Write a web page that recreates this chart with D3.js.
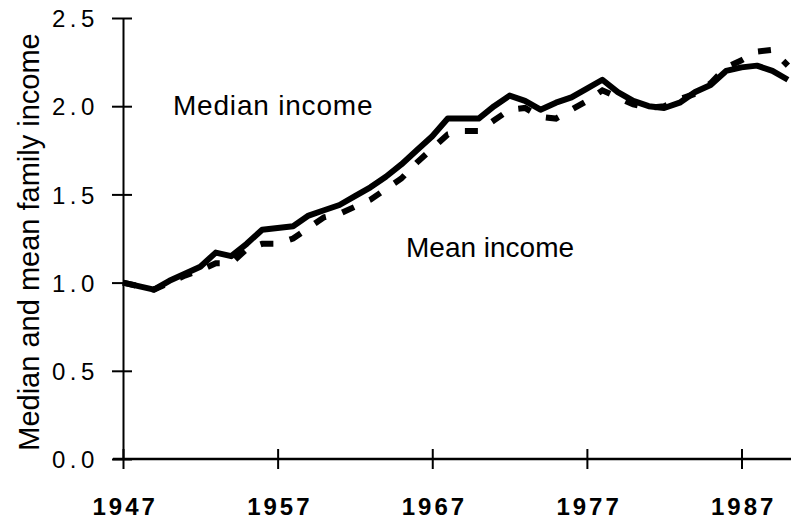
<!DOCTYPE html>
<meta charset="utf-8">
<script src="https://d3js.org/d3.v7.min.js"></script>
<style>
  body { margin: 0; background: #fff; }
  svg text { font-family: "Liberation Sans", Arial, sans-serif; fill: #000; }
</style>
<div id="chart"></div>
<script>

// years on the x axis
var years = [1947, 1948, 1949, 1950, 1951, 1952, 1953, 1954, 1955, 1956,
             1957, 1958, 1959, 1960, 1961, 1962, 1963, 1964, 1965, 1966,
             1967, 1968, 1969, 1970, 1971, 1972, 1973, 1974, 1975, 1976,
             1977, 1978, 1979, 1980, 1981, 1982, 1983, 1984, 1985, 1986,
             1987, 1988, 1989, 1990];

// median family income, relative to 1947
var median = [1.00, 0.98, 0.96, 1.01, 1.05, 1.09, 1.17, 1.15, 1.22, 1.30,
              1.31, 1.32, 1.38, 1.41, 1.44, 1.49, 1.54, 1.60, 1.67, 1.75,
              1.83, 1.93, 1.93, 1.93, 2.00, 2.06, 2.03, 1.98, 2.02, 2.05,
              2.10, 2.15, 2.08, 2.03, 2.00, 1.99, 2.02, 2.08, 2.12, 2.20,
              2.22, 2.23, 2.20, 2.15];

// mean family income, relative to 1947
var mean = [1.00, 0.98, 0.96, 1.00, 1.04, 1.07, 1.11, 1.11, 1.19, 1.22,
            1.22, 1.25, 1.31, 1.37, 1.39, 1.43, 1.47, 1.53, 1.59, 1.68,
            1.76, 1.84, 1.86, 1.86, 1.92, 1.98, 1.99, 1.94, 1.93, 1.98,
            2.03, 2.09, 2.05, 2.01, 1.99, 2.00, 2.04, 2.07, 2.13, 2.22,
            2.26, 2.31, 2.32, 2.23];

var yTicks = [0, 0.5, 1.0, 1.5, 2.0, 2.5];
var xTicks = [1947, 1957, 1967, 1977, 1987];

var width = 791, height = 522;
var font = "'Liberation Sans', Arial, sans-serif";

var svg = d3.select("#chart")
  .append("svg")
    .attr("width", width)
    .attr("height", height);

var x = d3.scaleLinear().domain([1947, 1990.2]).range([123, 791]);
var y = d3.scaleLinear().domain([0, 2.5]).range([459, 18]);

// y axis
var yAxis = svg.append("g")
  .attr("transform", "translate(" + x(1947) + ",0)")
  .attr("font-family", font)
  .call(d3.axisLeft(y).tickValues(yTicks).tickFormat(d3.format(".1f"))
        .tickSize(11).tickPadding(20).tickSizeOuter(0));
yAxis.select(".domain").attr("stroke", "#000").attr("stroke-width", 2);
yAxis.selectAll(".tick line")
  .attr("x1", 9).attr("stroke", "#000").attr("stroke-width", 2);
// labels placed from the left edge so letter spacing does not shift them
yAxis.selectAll(".tick text")
  .attr("text-anchor", "start")
  .attr("x", 52 - x(1947))
  .attr("dy", "0.36em")
  .style("font-family", font)
  .style("font-size", "24px")
  .style("letter-spacing", "4.5px");

// x axis
var xAxis = svg.append("g")
  .attr("transform", "translate(0," + y(0) + ")")
  .attr("font-family", font)
  .call(d3.axisBottom(x).tickValues(xTicks).tickFormat(d3.format("d"))
        .tickSize(10).tickPadding(29).tickSizeOuter(0));
xAxis.select(".domain").attr("stroke", "#000").attr("stroke-width", 2.5)
  .attr("d", "M" + (x(1947) - 10) + ",0H" + width);
xAxis.selectAll(".tick line")
  .attr("y1", -10).attr("stroke", "#000").attr("stroke-width", 2);
xAxis.selectAll(".tick text")
  .attr("text-anchor", "start")
  .attr("x", -31)
  .style("font-family", font)
  .style("font-size", "24px")
  .style("font-weight", "bold")
  .style("letter-spacing", "3px");

// lines
var line = d3.line()
  .x(function(d, i) { return x(years[i]); })
  .y(function(d) { return y(d); });

svg.append("path")
  .datum(mean)
  .attr("fill", "none")
  .attr("stroke", "#000")
  .attr("stroke-width", 6)
  .attr("stroke-dasharray", "13,17")
  .attr("d", line);

svg.append("path")
  .datum(median)
  .attr("fill", "none")
  .attr("stroke", "#000")
  .attr("stroke-width", 6)
  .attr("stroke-linejoin", "round")
  .attr("d", line);

// labels
svg.append("text")
  .attr("x", 173).attr("y", 115)
  .style("font-size", "28px")
  .style("letter-spacing", "0.8px")
  .text("Median income");

svg.append("text")
  .attr("x", 406).attr("y", 257)
  .style("font-size", "28px")
  .text("Mean income");

svg.append("text")
  .attr("transform", "translate(39,242) rotate(-90)")
  .attr("text-anchor", "middle")
  .style("font-size", "29px")
  .text("Median and mean family income");

</script>
